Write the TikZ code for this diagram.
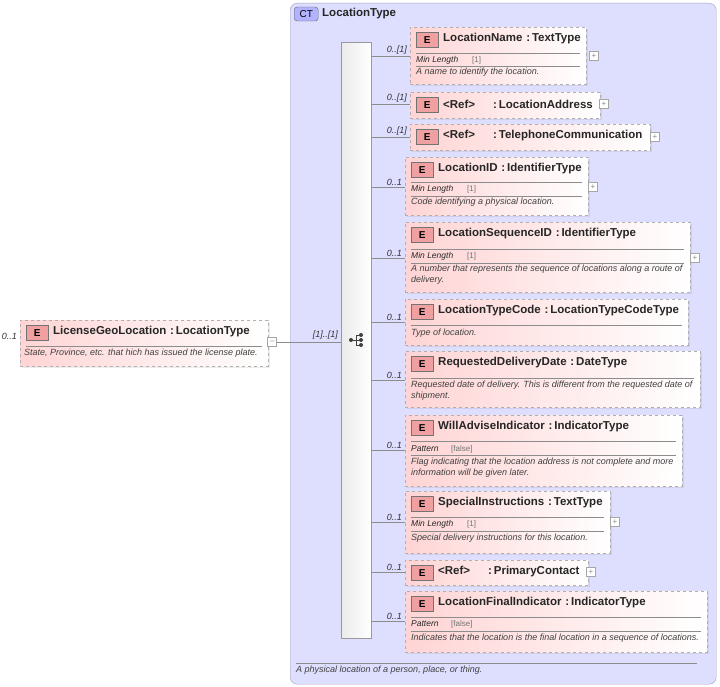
\documentclass[tikz,border=0pt]{standalone}
\usepackage{fontspec}
\setmainfont{Liberation Sans}
\usetikzlibrary{shadows}
\definecolor{pinkL}{RGB}{255,212,212}
\definecolor{ctfill}{RGB}{222,222,255}
\definecolor{ctborder}{RGB}{160,160,190}
\definecolor{bord}{RGB}{175,175,175}
\definecolor{badge}{RGB}{240,160,160}
\tikzset{
 ebox/.style={draw=bord,dashed,left color=pinkL,right color=white,shading angle=90,anchor=north west,inner sep=0pt,drop shadow={opacity=0.15,shadow xshift=1.5pt,shadow yshift=-1.5pt}},
 ebadge/.style={draw=black!55,fill=badge,font=\fontsize{10}{11}\selectfont\bfseries,minimum width=22pt,minimum height=15pt,inner sep=0pt,anchor=west},
 ttl/.style={font=\fontsize{11.5}{13}\selectfont\bfseries,anchor=west,inner sep=0pt,text=black!85},
 desc/.style={font=\fontsize{9}{11}\selectfont\itshape,anchor=north west,inner sep=0pt,text=black!75,align=left},
 fac/.style={font=\fontsize{8.5}{10}\selectfont\itshape,anchor=west,inner sep=0pt,text=black!85},
 facv/.style={font=\fontsize{8}{10}\selectfont,anchor=west,inner sep=0pt,text=black!55},
 card/.style={font=\fontsize{9}{10}\selectfont\itshape,anchor=south east,inner sep=1pt,text=black!80},
 sep/.style={draw=black!45,line width=0.5pt},
 conn/.style={draw=black!45,line width=0.5pt},
 pbox/.style={draw=black!35,fill=white,minimum size=9pt,inner sep=0pt,font=\fontsize{8}{8}\selectfont,text=black!45},
}
% #1 name #2 x1 #3 y1 #4 x2 #5 y2 #6 title
\newcommand\xsdbox[6]{%
 \node[ebox,minimum width={#4-#2},minimum height={#5-#3}] (#1) at (#2,#3) {};
 \node[ebadge] (#1b) at (#2+6,#3+13) {E};
 \node[ttl] (#1t) at (#2+33,#3+12) {#6};}
\newcommand\xsdsep[3]{\draw[sep] (#1+6,#3) -- (#2-6,#3);}
\begin{document}
\begin{tikzpicture}[x=1pt,y=-1pt]
\useasboundingbox (0,0) rectangle (720,687);
% container
\node[draw=ctborder,fill=ctfill,rounded corners=7pt,minimum width=426pt,minimum height=681pt,anchor=north west,inner sep=0pt] (ct) at (290,3) {};
\node[draw=black!60,fill=ctfill!80!blue,rounded corners=3pt,font=\fontsize{10}{10}\selectfont,minimum width=24pt,minimum height=14pt,inner sep=0pt,anchor=west] (ctb) at (294,14) {CT};
\node[ttl] (ctt) at (322,14) {LocationType};
\draw[sep] (296,663) -- (697,663);
\node[desc] (ctd) at (296,666) {A physical location of a person, place, or thing.};
% sequence bar
\node[draw=black!40,left color=black!8,right color=white,shading angle=90,minimum width=30pt,minimum height=596pt,anchor=north west,inner sep=0pt] (seq) at (341,42) {};
\begin{scope}[shift={(356,340)}]
\fill[black!75] (-5,0) circle (2);
\draw[black!75,line width=0.9pt] (-5,0) -- (0,0) (0,-5) -- (0,5) (0,-5) -- (5,-5) (0,0)--(5,0) (0,5)--(5,5);
\fill[black!75] (5,-5) circle (2) (5,0) circle (2) (5,5) circle (2);
\end{scope}
% left element
\xsdbox{lg}{20}{320}{268}{366}{LicenseGeoLocation\,\,:\,LocationType}
\xsdsep{20}{268}{346}
\node[desc] (lgd) at (24,349) {State, Province, etc. that hich has issued the license plate.};
\node[card,anchor=east] (lgc) at (18,336) {0..1};
\node[pbox] (lgp) at (272,342) {--};
\draw[conn] (lgp.east) -- (seq.west |- lgp);
\node[card] (sqc) at (339,341) {[1]..[1]};
% children
\xsdbox{c1}{410}{27}{586}{84}{LocationName\,\,:\,TextType}
\xsdsep{410}{586}{53}\xsdsep{410}{586}{66}
\node[fac] at (416,60) {Min Length}; \node[facv] at (472,60) {[1]};
\node[desc] at (416,68) {A name to identify the location.};
\node[pbox] (c1p) at (594,56) {+};
\xsdbox{c2}{410}{92}{600}{118}{<Ref>\hspace{18pt}:\,LocationAddress}
\node[pbox] (c2p) at (604,104) {+};
\xsdbox{c3}{410}{124}{650}{150}{<Ref>\hspace{18pt}:\,TelephoneCommunication}
\node[pbox] (c3p) at (655,137) {+};
\xsdbox{c4}{405}{157}{588}{215}{LocationID\,\,:\,IdentifierType}
\xsdsep{405}{588}{182}\xsdsep{405}{588}{196}
\node[fac] at (411,189) {Min Length}; \node[facv] at (467,189) {[1]};
\node[desc] at (411,198) {Code identifying a physical location.};
\node[pbox] (c4p) at (593,187) {+};
\xsdbox{c5}{405}{222}{690}{292}{LocationSequenceID\,\,:\,IdentifierType}
\xsdsep{405}{690}{249}\xsdsep{405}{690}{263}
\node[fac] at (411,256) {Min Length}; \node[facv] at (467,256) {[1]};
\node[desc] at (411,265) {A number that represents the sequence of locations along a route of\\delivery.};
\node[pbox] (c5p) at (695,258) {+};
\xsdbox{c6}{405}{299}{688}{345}{LocationTypeCode\,\,:\,LocationTypeCodeType}
\xsdsep{405}{688}{325}
\node[desc] at (411,329) {Type of location.};
\xsdbox{c7}{405}{351}{700}{407}{RequestedDeliveryDate\,\,:\,DateType}
\xsdsep{405}{700}{378}
\node[desc] at (411,381) {Requested date of delivery. This is different from the requested date of\\shipment.};
\xsdbox{c8}{405}{415}{682}{486}{WillAdviseIndicator\,\,:\,IndicatorType}
\xsdsep{405}{682}{441}\xsdsep{405}{682}{455}
\node[fac] at (411,449) {Pattern}; \node[facv] at (451,449) {[false]};
\node[desc] at (411,458) {Flag indicating that the location address is not complete and more\\information will be given later.};
\xsdbox{c9}{405}{491}{610}{553}{SpecialInstructions\,\,:\,TextType}
\xsdsep{405}{610}{517}\xsdsep{405}{610}{531}
\node[fac] at (411,524) {Min Length}; \node[facv] at (467,524) {[1]};
\node[desc] at (411,534) {Special delivery instructions for this location.};
\node[pbox] (c9p) at (615,522) {+};
\xsdbox{c10}{405}{560}{588}{585}{<Ref>\hspace{18pt}:\,PrimaryContact}
\node[pbox] (c10p) at (591,572) {+};
\xsdbox{c11}{405}{591}{707}{652}{LocationFinalIndicator\,\,:\,IndicatorType}
\xsdsep{405}{707}{617}\xsdsep{405}{707}{631}
\node[fac] at (411,624) {Pattern}; \node[facv] at (451,624) {[false]};
\node[desc] at (411,634) {Indicates that the location is the final location in a sequence of locations.};
% connectors
\foreach \n/\y/\c in {c1/56/0..[1],c2/104/0..[1],c3/137/0..[1],c4/187/0..1,c5/258/0..1,c6/322/0..1,c7/380/0..1,c8/450/0..1,c9/522/0..1,c10/572/0..1,c11/621/0..1}{
 \coordinate (\n s) at (371,\y);
 \draw[conn] (\n s) -- (\n.west |- \n s);
 \node[card] at ([xshift=-2pt]\n.west |- \n s) {\c};
}
\end{tikzpicture}
\end{document}
